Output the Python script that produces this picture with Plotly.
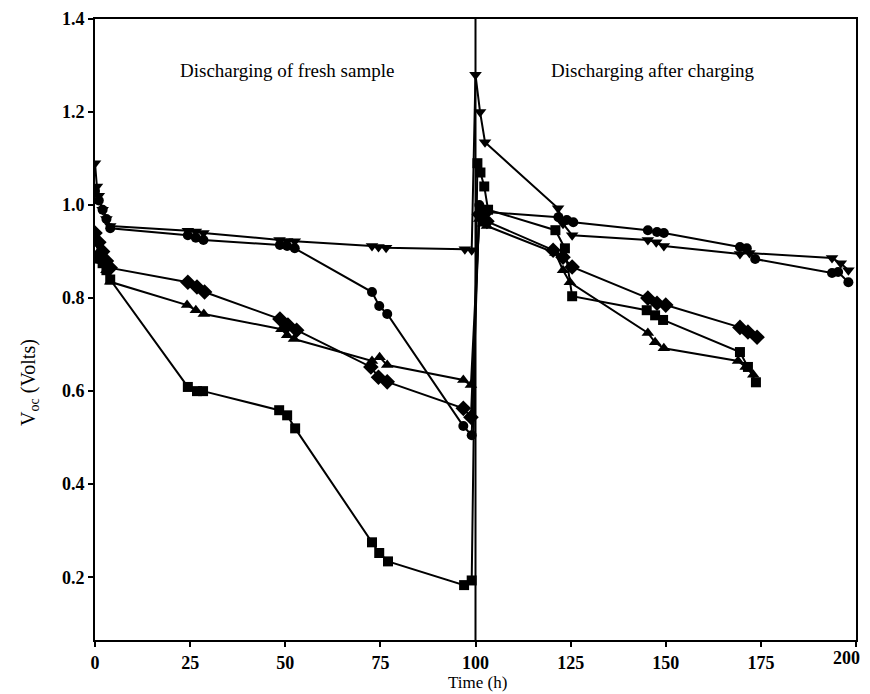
import plotly.graph_objects as go

# Series: time (h) and Voc (V)
t_square = [0, 1, 2, 3, 4, 24.4, 26.8, 28.4, 48.4, 50.5, 52.6, 72.8, 74.7, 77, 97, 99,
            100.5, 101.3, 102.3, 103.3, 121, 123.5, 125.4, 145, 147.2, 149.3, 169.5, 171.6, 173.7]
v_square = [0.89, 0.885, 0.875, 0.86, 0.84, 0.609, 0.60, 0.60, 0.559, 0.548, 0.52, 0.275, 0.252, 0.234, 0.183, 0.193,
            1.09, 1.07, 1.04, 0.99, 0.946, 0.907, 0.804, 0.774, 0.763, 0.753, 0.684, 0.652, 0.619]

t_circle = [0, 1, 2, 3, 4, 24.4, 26.5, 28.5, 48.6, 50.5, 52.5, 72.8, 74.7, 76.8, 96.8, 99,
            101, 102, 103, 121.8, 124, 125.7, 145.3, 147.7, 149.5, 169.5, 171.3, 173.5, 193.7, 195.3, 198]
v_circle = [1.03, 1.01, 0.99, 0.97, 0.95, 0.935, 0.93, 0.925, 0.914, 0.912, 0.907, 0.813, 0.783, 0.766, 0.525, 0.505,
            1.0, 0.99, 0.985, 0.974, 0.968, 0.963, 0.946, 0.942, 0.94, 0.91, 0.907, 0.884, 0.854, 0.856, 0.834]

t_tdown = [0, 0.5, 1, 2, 3, 4, 24.4, 26.5, 28.5, 48.5, 50.5, 52.5, 72.8, 74.5, 76.5, 97.2, 99,
           100, 101.2, 102.5, 121.7, 123, 125.4, 145.3, 147.5, 149.5, 169.5, 172, 193.7, 196, 198]
v_tdown = [1.09, 1.04, 1.02, 0.99, 0.97, 0.955, 0.945, 0.943, 0.94, 0.925, 0.923, 0.922, 0.912, 0.91, 0.908, 0.905, 0.903,
           1.28, 1.2, 1.135, 0.993, 0.96, 0.935, 0.925, 0.92, 0.912, 0.895, 0.897, 0.886, 0.875, 0.86]

t_diamond = [0, 1, 2, 3, 4, 24.4, 26.8, 28.8, 48.6, 50.7, 53, 72.5, 74.5, 76.8, 96.8, 98.8,
             101, 102, 103, 120.4, 123, 125.4, 145.3, 147.7, 150, 169.5, 171.6, 174]
v_diamond = [0.94, 0.92, 0.90, 0.88, 0.865, 0.834, 0.824, 0.813, 0.755, 0.742, 0.731, 0.652, 0.63, 0.62, 0.563, 0.544,
             0.98, 0.97, 0.965, 0.903, 0.888, 0.867, 0.80, 0.789, 0.785, 0.737, 0.727, 0.716]

t_tup = [0, 1, 2, 3, 4, 24.2, 26.5, 28.6, 49, 50.5, 52.3, 72.8, 74.8, 76.8, 96.8, 98.8,
         101, 102, 103, 121, 123, 124.8, 145.3, 147.2, 149.5, 169, 171, 173]
v_tup = [0.92, 0.90, 0.88, 0.86, 0.835, 0.785, 0.774, 0.766, 0.733, 0.72, 0.712, 0.665, 0.673, 0.656, 0.624, 0.613,
         0.97, 0.96, 0.955, 0.897, 0.86, 0.834, 0.725, 0.705, 0.692, 0.665, 0.652, 0.635]

x_ticks = [0, 25, 50, 75, 100, 125, 150, 175, 200]
x_tick_labels = ["0", "25", "50", "75", "100", "125", "150", "175", "200"]
y_ticks = [0.2, 0.4, 0.6, 0.8, 1.0, 1.2, 1.4]
panel_labels = ["Discharging of fresh sample", "Discharging after charging"]
panel_label_x = [50.5, 146.6]
divider_x = 100

series = [
    (t_square, v_square, "square", 10),
    (t_circle, v_circle, "circle", 10),
    (t_tdown, v_tdown, "triangle-down", 11),
    (t_diamond, v_diamond, "diamond", 12),
    (t_tup, v_tup, "triangle-up", 11),
]

fig = go.Figure()
for t, v, sym, sz in series:
    fig.add_trace(go.Scatter(
        x=t, y=v, mode="lines+markers",
        line=dict(color="black", width=2),
        marker=dict(symbol=sym, size=sz, color="black"),
        showlegend=False,
    ))

fig.add_shape(type="line", xref="x", yref="paper", x0=divider_x, x1=divider_x, y0=0, y1=1,
              line=dict(color="black", width=2))

for txt, xx in zip(panel_labels, panel_label_x):
    fig.add_annotation(x=xx, y=1.29, xref="x", yref="y", text=txt, showarrow=False,
                       font=dict(family="Liberation Serif", size=19, color="black"))

# axis titles
fig.add_annotation(xref="paper", yref="paper", x=-0.0854, y=0.414, text="V<sub>oc</sub> (Volts)",
                   textangle=-90, showarrow=False, xanchor="center", yanchor="middle",
                   font=dict(family="Liberation Serif", size=20, color="black"))
fig.add_annotation(xref="paper", yref="paper", x=0.503, y=-0.069, text="Time (h)", showarrow=False,
                   xanchor="center", yanchor="middle",
                   font=dict(family="Liberation Serif", size=17, color="black"))

font_tick = dict(family="Liberation Serif", size=18, color="black", weight="bold")

# last x tick label is drawn right-anchored so it is not cut at the page edge
fig.add_annotation(xref="x", yref="paper", x=x_ticks[-1], y=0, text=x_tick_labels[-1],
                   showarrow=False, xanchor="right", yanchor="top", xshift=6, yshift=-6,
                   font=font_tick)
shown_x_labels = x_tick_labels[:-1] + [""]

fig.update_layout(
    width=862, height=686,
    margin=dict(l=87, r=14, t=11, b=54),
    paper_bgcolor="white", plot_bgcolor="white",
    xaxis=dict(range=[0, 200], tickvals=x_ticks, ticktext=shown_x_labels,
               showgrid=False, zeroline=False, showline=True, linecolor="black", linewidth=2,
               mirror=True, ticks="outside", ticklen=5, tickwidth=2, tickcolor="black",
               tickfont=font_tick, automargin=False),
    yaxis=dict(range=[0.065, 1.4], tickvals=y_ticks, ticktext=["%.1f" % y for y in y_ticks],
               showgrid=False, zeroline=False, showline=True, linecolor="black", linewidth=2,
               mirror=True, ticks="outside", ticklen=5, tickwidth=2, tickcolor="black",
               tickfont=font_tick, automargin=False),
)

fig.write_html("out.html")
